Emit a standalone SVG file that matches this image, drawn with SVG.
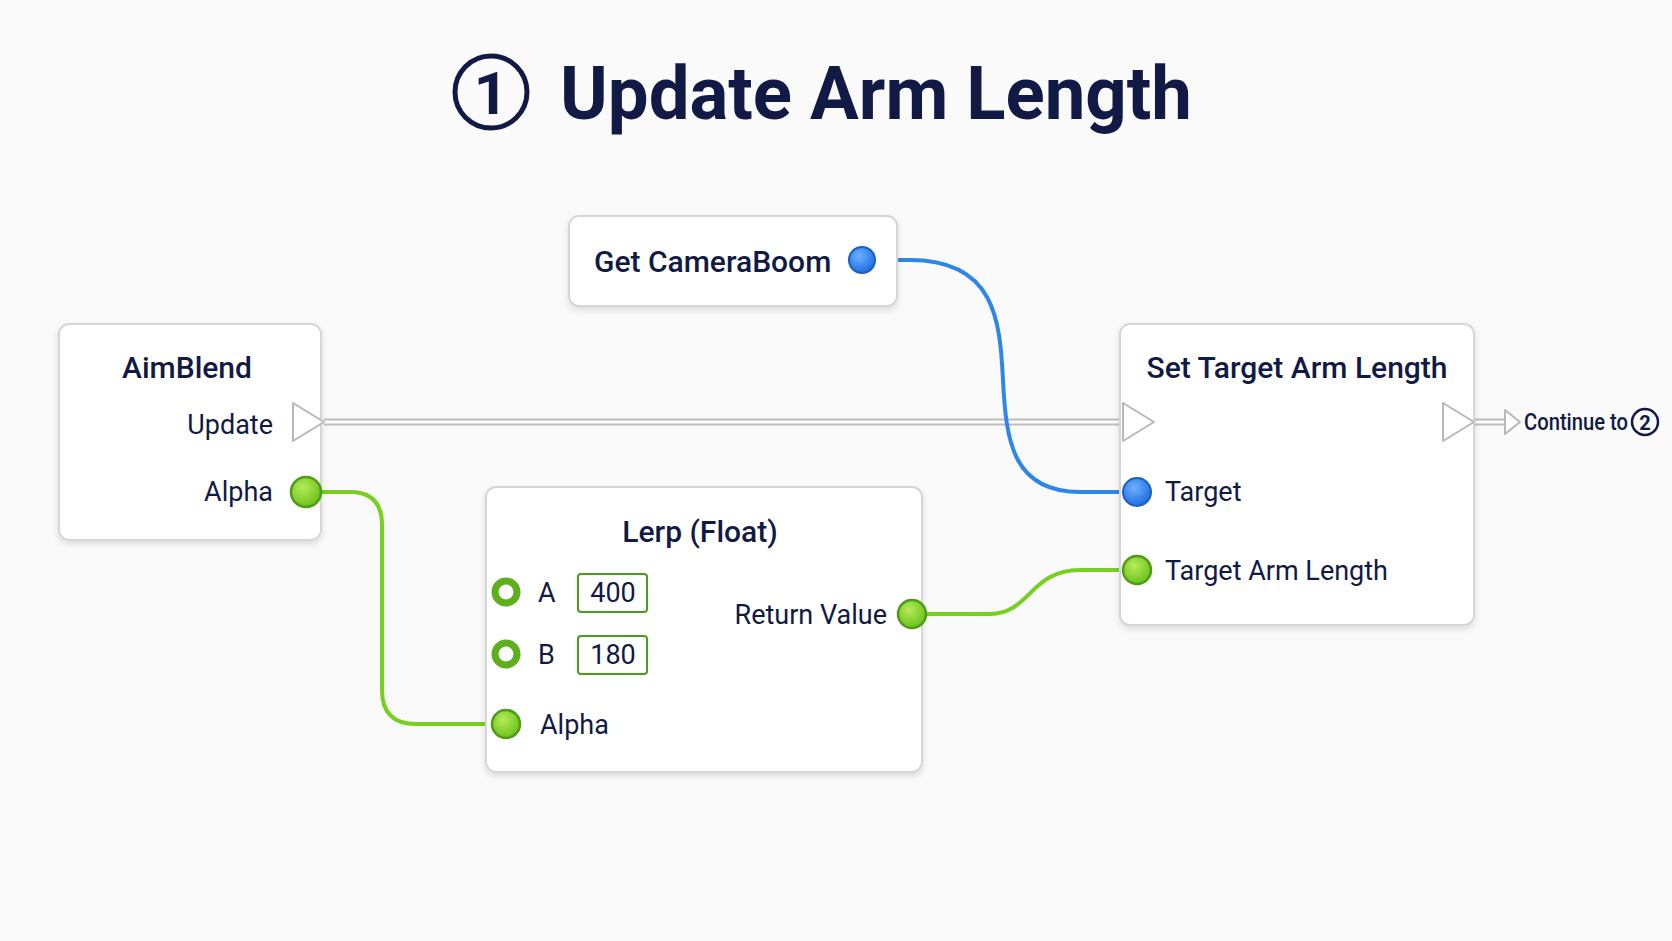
<svg xmlns="http://www.w3.org/2000/svg" width="1672" height="941" viewBox="0 0 1672 941">
<defs>
<filter id="sh" x="-10%" y="-10%" width="120%" height="130%"><feDropShadow dx="0" dy="3" stdDeviation="3" flood-color="#000" flood-opacity="0.12"/></filter>
<radialGradient id="gg" cx="40%" cy="35%" r="65%"><stop offset="0" stop-color="#b5ec5a"/><stop offset="1" stop-color="#6cc21c"/></radialGradient>
<radialGradient id="bg" cx="40%" cy="35%" r="65%"><stop offset="0" stop-color="#6fb0ff"/><stop offset="1" stop-color="#1e6fe0"/></radialGradient>
</defs>
<style>
text{font-family:Roboto,"Liberation Sans",sans-serif;fill:#111a45}
.t{font-size:30px;font-weight:500}
.l{font-size:27px}
.box{fill:#fff;stroke:#d6d6d6;stroke-width:2;filter:url(#sh)}
.gp{fill:url(#gg);stroke:#4f9c17;stroke-width:2.5}
.gr{fill:#fff;stroke:#5fae1c;stroke-width:7}
.bp{fill:url(#bg);stroke:#1a5fc4;stroke-width:2}
.ex{fill:#fff;stroke:#b8b8b8;stroke-width:2;stroke-linejoin:round}
.vb{fill:#fff;stroke:#4c9c1e;stroke-width:2}
</style>
<rect width="1672" height="941" fill="#fafafa"/>
<g id="title">
<circle cx="491" cy="92" r="36" fill="none" stroke="#111a45" stroke-width="5"/>
<text x="491" y="114" text-anchor="middle" style="font-size:60px;font-weight:700">1</text>
<text x="560" y="119" style="font-size:74px;font-weight:700" textLength="632" lengthAdjust="spacingAndGlyphs">Update Arm Length</text>
</g>
<g id="connectors" fill="none">
<path d="M324,422 H1122" stroke="#bdbdbd" stroke-width="7"/>
<path d="M324,422 H1122" stroke="#fff" stroke-width="3"/>
<path d="M862,260 L910,260 C995,260 1000,320 1003,380 C1006,440 1012,492 1080,492 L1137,492" stroke="#2f86ea" stroke-width="4"/>
<path d="M306,492 L350,492 Q382,492 382,525 L382,690 Q382,724 416,724 L506,724" stroke="#77cf1f" stroke-width="4"/>
<path d="M912,614 L990,614 C1030,614 1030,570 1080,570 L1137,570" stroke="#77cf1f" stroke-width="4"/>
<path d="M1475,422 H1505" stroke="#bdbdbd" stroke-width="7"/>
<path d="M1475,422 H1507" stroke="#fff" stroke-width="3"/>
<path d="M1505,410 L1520,422 L1505,434 Z" class="ex"/>
</g>
<g id="getCameraBoom">
<rect x="569" y="216" width="328" height="90" rx="10" class="box"/>
<text x="594" y="272" class="t">Get CameraBoom</text>
<circle cx="862" cy="260" r="13" class="bp"/>
</g>
<g id="aimBlend">
<rect x="59" y="324" width="262" height="216" rx="10" class="box"/>
<text x="187" y="378" text-anchor="middle" class="t">AimBlend</text>
<text x="273" y="434" text-anchor="end" class="l">Update</text>
<path d="M293,403 L324,422 L293,441 Z" class="ex"/>
<text x="273" y="501" text-anchor="end" class="l">Alpha</text>
<circle cx="306" cy="492" r="15" class="gp"/>
</g>
<g id="lerp">
<rect x="486" y="487" width="436" height="285" rx="10" class="box"/>
<text x="700" y="542" text-anchor="middle" class="t">Lerp (Float)</text>
<circle cx="506" cy="592" r="11" class="gr"/>
<text x="538" y="602" class="l">A</text>
<rect x="578" y="574" width="69" height="38" rx="3" class="vb"/>
<text x="613" y="602" text-anchor="middle" class="l">400</text>
<circle cx="506" cy="654" r="11" class="gr"/>
<text x="538" y="664" class="l">B</text>
<rect x="578" y="636" width="69" height="38" rx="3" class="vb"/>
<text x="613" y="664" text-anchor="middle" class="l">180</text>
<circle cx="506" cy="724" r="14" class="gp"/>
<text x="540" y="734" class="l">Alpha</text>
<text x="887" y="624" text-anchor="end" class="l">Return Value</text>
<circle cx="912" cy="614" r="14" class="gp"/>
</g>
<g id="setTargetArmLength">
<rect x="1120" y="324" width="354" height="301" rx="10" class="box"/>
<text x="1297" y="378" text-anchor="middle" class="t">Set Target Arm Length</text>
<path d="M1123,403 L1154,422 L1123,441 Z" class="ex"/>
<path d="M1443,403 L1474,422 L1443,441 Z" class="ex"/>
<circle cx="1137" cy="492" r="14" class="bp"/>
<text x="1165" y="501" class="l">Target</text>
<circle cx="1137" cy="570" r="14" class="gp"/>
<text x="1165" y="580" class="l">Target Arm Length</text>
</g>
<g id="continue">
<text x="1524" y="430" style="font-size:23px;font-weight:500" textLength="104" lengthAdjust="spacingAndGlyphs">Continue to</text>
<circle cx="1645" cy="422" r="13" fill="none" stroke="#111a45" stroke-width="2.5"/>
<text x="1645" y="430" text-anchor="middle" style="font-size:20px;font-weight:700">2</text>
</g>
</svg>
